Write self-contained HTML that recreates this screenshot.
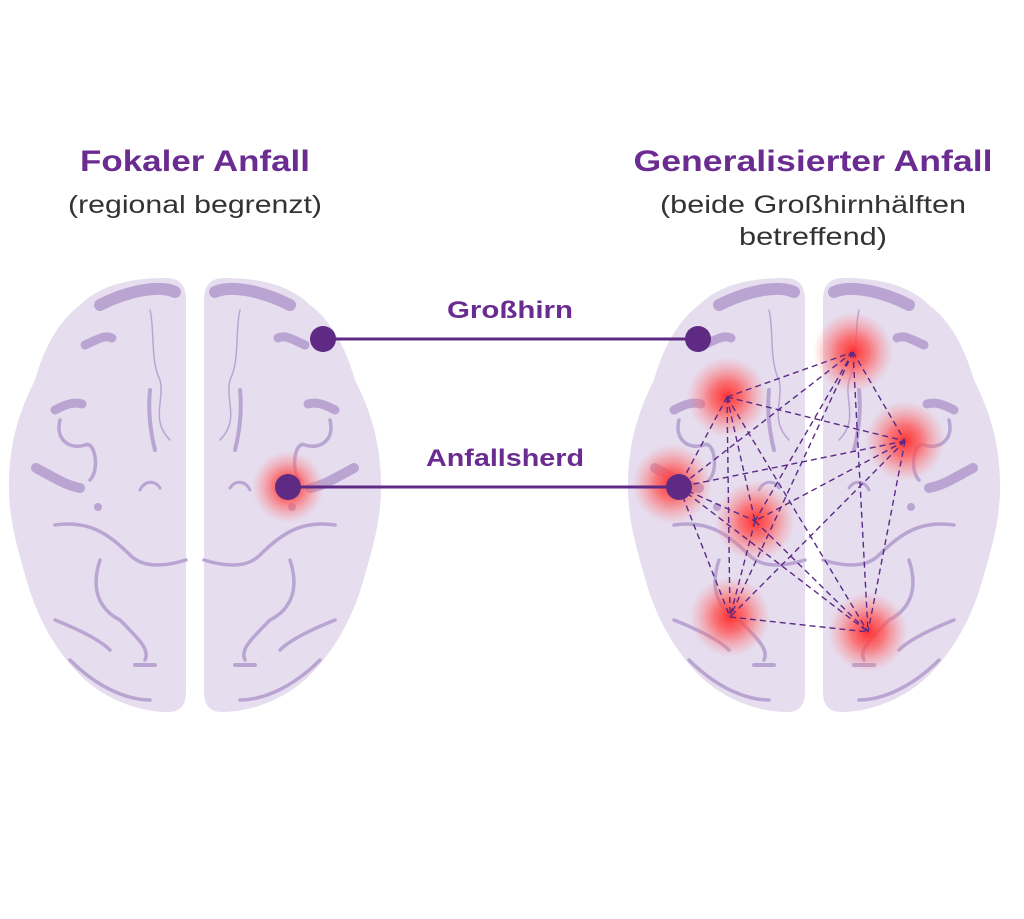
<!DOCTYPE html>
<html><head><meta charset="utf-8"><style>html,body{margin:0;padding:0;background:#fff}svg{display:block}</style></head>
<body>
<svg width="1024" height="919" viewBox="0 0 1024 919" xmlns="http://www.w3.org/2000/svg" font-family="Liberation Sans, sans-serif">
<defs>
<radialGradient id="g"><stop offset="0" stop-color="#ff3030" stop-opacity="1"/><stop offset="0.4" stop-color="#ff5050" stop-opacity="0.75"/><stop offset="1" stop-color="#ff8080" stop-opacity="0"/></radialGradient>
<g id="hemi">
<path d="M186,300 Q186,278 166,278 C130,278 100,285 80,305 C60,320 45,345 35,380 C20,410 10,440 9,480 C8,520 18,550 28,585 C40,625 60,655 80,675 C105,700 140,712 168,712 Q186,712 186,692 Z" fill="#e6ddef"/>
<g fill="none" stroke="#baa5d2" stroke-linecap="round">
<path d="M100,305 C130,290 160,285 175,292" stroke-width="12"/>
<path d="M85,345 C100,338 105,335 112,338" stroke-width="9"/>
<path d="M55,410 C68,403 75,402 82,404" stroke-width="9"/>
<path d="M36,468 C55,478 65,485 80,488" stroke-width="10"/>
<path d="M60,420 C55,440 70,450 85,445 C95,440 100,470 90,480" stroke-width="3.5"/>
<path d="M55,525 C90,520 110,535 130,555 C145,570 170,565 186,560" stroke-width="3.5"/>
<path d="M100,560 C90,590 100,610 120,620 C140,640 150,650 145,660" stroke-width="3.5"/>
<path d="M55,620 C80,630 100,640 110,650" stroke-width="3.5"/>
<path d="M70,660 C100,690 130,700 150,700" stroke-width="3.5"/>
<path d="M150,310 C155,330 150,360 160,380 C165,400 150,420 170,440" stroke-width="1.5"/>
<path d="M150,390 C148,410 150,430 155,450" stroke-width="4"/>
<path d="M140,490 C145,480 155,480 160,488" stroke-width="3"/>
<path d="M135,665 L155,665" stroke-width="4"/>
</g>
<circle cx="98" cy="507" r="4" fill="#baa5d2"/>
</g>
<g id="brain">
<use href="#hemi"/>
<use href="#hemi" transform="translate(390,0) scale(-1,1)"/>
</g>
</defs>

<text x="195" y="171" text-anchor="middle" font-size="30" font-weight="bold" fill="#6a2c91" textLength="230" lengthAdjust="spacingAndGlyphs">Fokaler Anfall</text>
<text x="195" y="213" text-anchor="middle" font-size="25" fill="#333" textLength="254" lengthAdjust="spacingAndGlyphs">(regional begrenzt)</text>
<text x="813" y="171" text-anchor="middle" font-size="30" font-weight="bold" fill="#6a2c91" textLength="359" lengthAdjust="spacingAndGlyphs">Generalisierter Anfall</text>
<text x="813" y="213" text-anchor="middle" font-size="25" fill="#333" textLength="306" lengthAdjust="spacingAndGlyphs">(beide Großhirnhälften</text>
<text x="813" y="245" text-anchor="middle" font-size="25" fill="#333" textLength="148" lengthAdjust="spacingAndGlyphs">betreffend)</text>

<use href="#brain"/>
<use href="#brain" transform="translate(619,0)"/>

<circle cx="288" cy="487" r="36" fill="url(#g)"/>

<g fill="url(#g)">
<circle cx="727" cy="397" r="40"/>
<circle cx="853" cy="352" r="40"/>
<circle cx="905" cy="441" r="40"/>
<circle cx="672" cy="484" r="40"/>
<circle cx="755" cy="521" r="40"/>
<circle cx="730" cy="617" r="40"/>
<circle cx="868" cy="632" r="40"/>
</g>
<g stroke="#5a2a86" stroke-width="1.4" stroke-dasharray="6,4" fill="none">
<path d="M727,397L853,352M727,397L905,441M727,397L679,487M727,397L755,521M727,397L730,617M727,397L868,632
M853,352L905,441M853,352L679,487M853,352L755,521M853,352L730,617M853,352L868,632
M905,441L679,487M905,441L755,521M905,441L730,617M905,441L868,632
M679,487L755,521M679,487L730,617M679,487L868,632
M755,521L730,617M755,521L868,632M730,617L868,632"/>
</g>

<g stroke="#5e2a84" stroke-width="3">
<line x1="323" y1="339" x2="698" y2="339"/>
<line x1="288" y1="487" x2="679" y2="487"/>
</g>
<g fill="#5e2a84">
<circle cx="323" cy="339" r="13"/>
<circle cx="698" cy="339" r="13"/>
<circle cx="288" cy="487" r="13"/>
<circle cx="679" cy="487" r="13"/>
</g>
<text x="510" y="318" text-anchor="middle" font-size="24" font-weight="bold" fill="#6a2c91" textLength="126" lengthAdjust="spacingAndGlyphs">Großhirn</text>
<text x="505" y="466" text-anchor="middle" font-size="24" font-weight="bold" fill="#6a2c91" textLength="158" lengthAdjust="spacingAndGlyphs">Anfallsherd</text>
</svg>
</body></html>
